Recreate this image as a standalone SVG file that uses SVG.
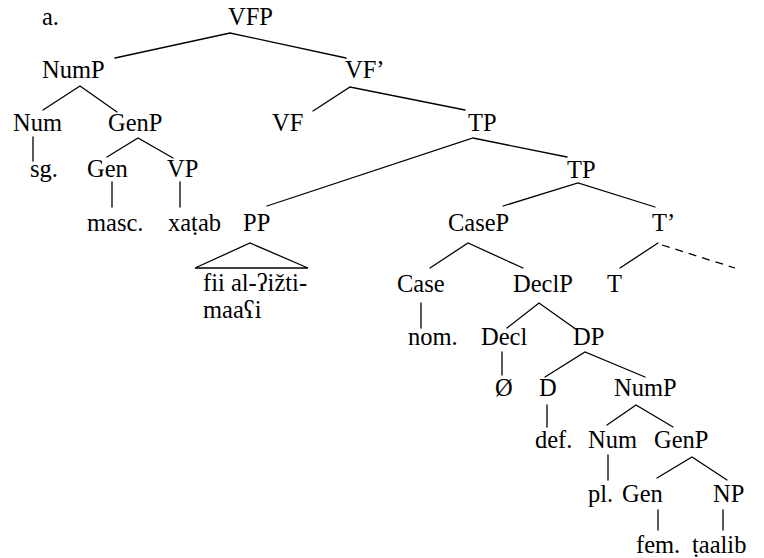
<svg xmlns="http://www.w3.org/2000/svg" width="764" height="558" viewBox="0 0 764 558">
  <style>
    .edge { stroke: #000; stroke-width: 1.3; fill: none; stroke-linecap: round; }
    .dash { stroke: #000; stroke-width: 1.3; fill: none; stroke-dasharray: 8 6; }
  </style>
  <rect width="764" height="558" fill="#fff"/>

  <!-- tree connectors -->
  <g id="connectors">
    <!-- VFP -->
    <path class="edge" d="M115,58 L230,33 L346,58"/>
    <!-- NumP -->
    <path class="edge" d="M43,110 L80,86 L117,112"/>
    <line class="edge" x1="33" y1="137" x2="33" y2="161"/>
    <!-- GenP (upper) -->
    <path class="edge" d="M107,157 L138,138 L173,158"/>
    <line class="edge" x1="112" y1="182" x2="112" y2="207"/>
    <line class="edge" x1="180" y1="182" x2="180" y2="207"/>
    <!-- VF' -->
    <path class="edge" d="M313,111 L350,87 L465,110"/>
    <!-- TP -->
    <path class="edge" d="M267,206 L473,138 L567,157"/>
    <!-- PP triangle -->
    <path class="edge" d="M195,268 L250,243 L308,268 Z"/>
    <!-- lower TP -->
    <path class="edge" d="M503,206 L578,183 L655,207"/>
    <!-- T' -->
    <line class="edge" x1="620" y1="268" x2="658" y2="243"/>
    <line class="dash" x1="662" y1="245" x2="735" y2="268"/>
    <!-- CaseP -->
    <path class="edge" d="M430,268 L468,243 L523,268"/>
    <line class="edge" x1="421" y1="303" x2="421" y2="328"/>
    <!-- DeclP -->
    <path class="edge" d="M507,328 L539,303 L577,330"/>
    <line class="edge" x1="502" y1="352" x2="502" y2="375"/>
    <!-- DP -->
    <path class="edge" d="M545,377 L585,352 L645,377"/>
    <line class="edge" x1="547" y1="405" x2="547" y2="427"/>
    <!-- NumP (lower) -->
    <path class="edge" d="M607,425 L636,405 L673,427"/>
    <line class="edge" x1="608" y1="455" x2="608" y2="480"/>
    <!-- GenP (lower) -->
    <path class="edge" d="M657,478 L692,457 L727,480"/>
    <line class="edge" x1="658" y1="510" x2="658" y2="530"/>
    <line class="edge" x1="723" y1="510" x2="723" y2="530"/>
  </g>

  <!-- node labels -->
  <g font-family="Liberation Serif" font-size="24.5" fill="#000">
    <text x="42" y="25">a.</text>
    <g id="VFP"><text x="228" y="25">VFP</text></g>
    <g id="NumP1"><text x="42" y="78">NumP</text></g>
    <g id="VFbar"><text x="345" y="78">VF’</text></g>
    <g id="Num1"><text x="13" y="131">Num</text></g>
    <g id="GenP1"><text x="108" y="131">GenP</text></g>
    <g id="VF"><text x="272" y="131">VF</text></g>
    <g id="TP1"><text x="468" y="131">TP</text></g>
    <g id="sg"><text x="30" y="177">sg.</text></g>
    <g id="Gen1"><text x="87" y="177">Gen</text></g>
    <g id="VP"><text x="167" y="177">VP</text></g>
    <g id="TP2"><text x="567" y="178">TP</text></g>
    <g id="masc"><text x="87" y="231">masc.</text></g>
    <g id="xatab"><text x="168" y="231">xaṭab</text></g>
    <g id="PP"><text x="243" y="231">PP</text></g>
    <g id="CaseP"><text x="448" y="231">CaseP</text></g>
    <g id="Tbar"><text x="652" y="231">T’</text></g>
    <g id="PPcontent">
      <text x="203" y="291">fii al-ʔižti-</text>
      <text x="203" y="318">maaʕi</text>
    </g>
    <g id="Case"><text x="397" y="292">Case</text></g>
    <g id="DeclP"><text x="513" y="292">DeclP</text></g>
    <g id="T"><text x="607" y="292">T</text></g>
    <g id="nom"><text x="408" y="345">nom.</text></g>
    <g id="Decl"><text x="481" y="345">Decl</text></g>
    <g id="DP"><text x="573" y="345">DP</text></g>
    <g id="null"><text x="495" y="396">Ø</text></g>
    <g id="D"><text x="539" y="396">D</text></g>
    <g id="NumP2"><text x="614" y="396">NumP</text></g>
    <g id="def"><text x="535" y="448">def.</text></g>
    <g id="Num2"><text x="588" y="448">Num</text></g>
    <g id="GenP2"><text x="654" y="448">GenP</text></g>
    <g id="pl"><text x="588" y="502">pl.</text></g>
    <g id="Gen2"><text x="622" y="502">Gen</text></g>
    <g id="NP"><text x="713" y="502">NP</text></g>
    <g id="fem"><text x="636" y="553">fem.</text></g>
    <g id="taalib"><text x="692" y="553">ṭaalib</text></g>
  </g>
</svg>
